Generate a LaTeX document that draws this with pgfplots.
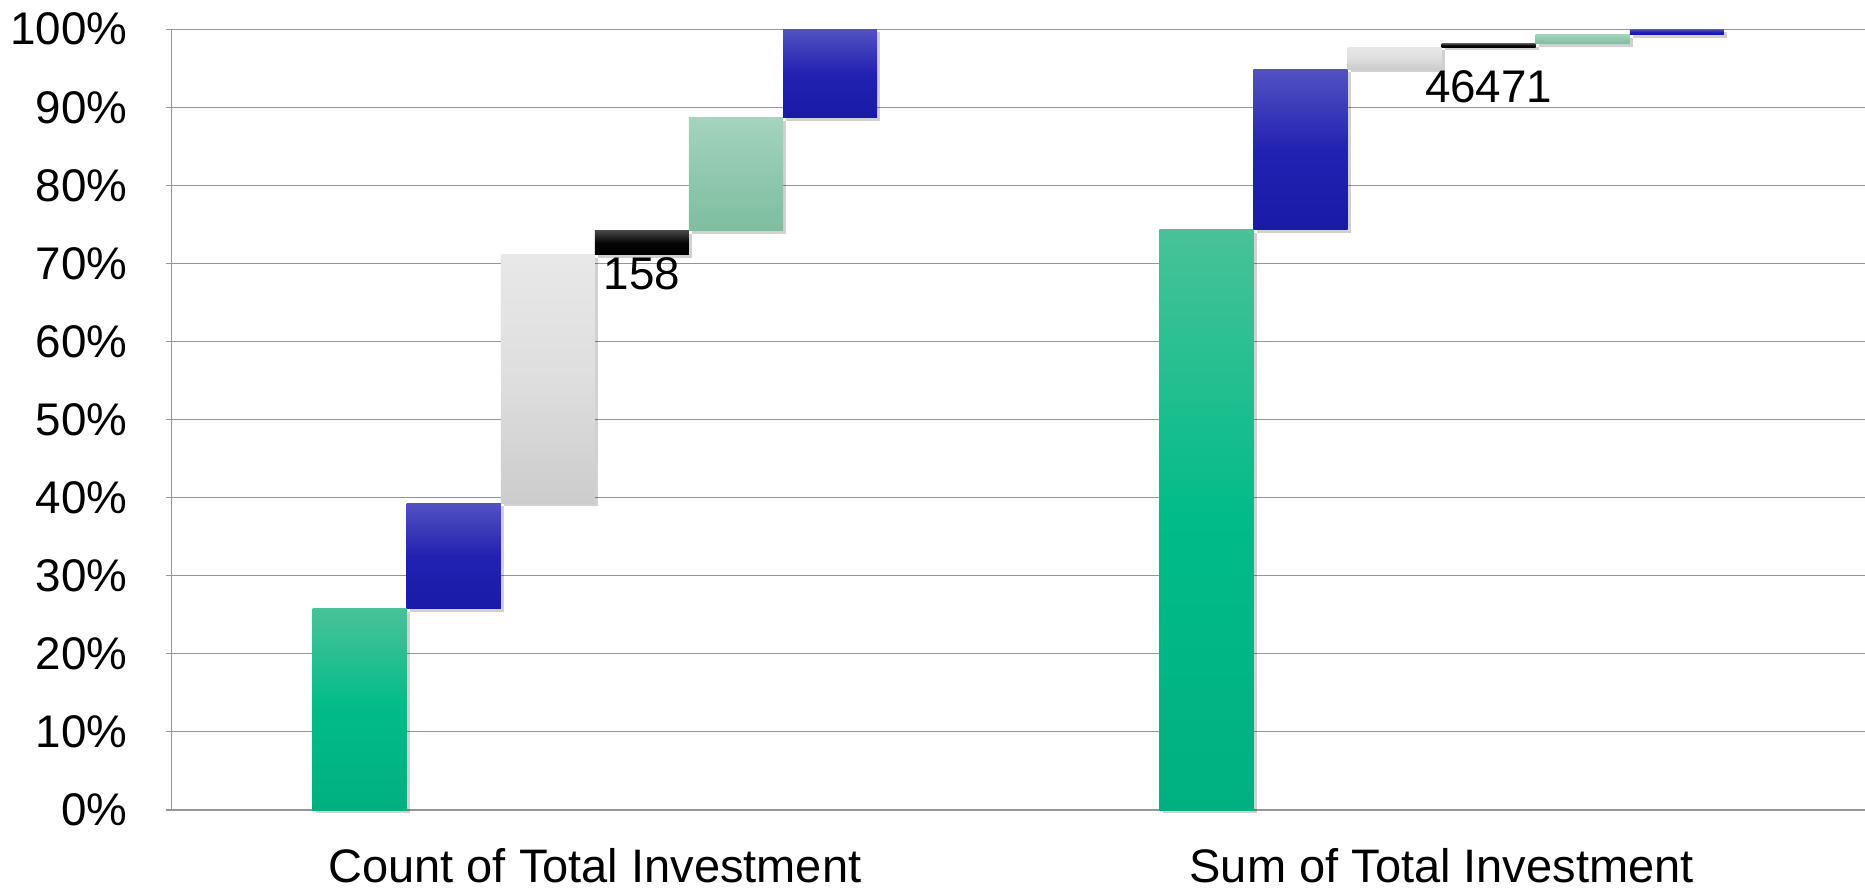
\documentclass[border=0pt]{standalone}
\usepackage{fontspec}
\setmainfont{Liberation Sans}
\usepackage{pgfplots}
\pgfplotsset{compat=1.18}
\definecolor{axgray}{RGB}{150,150,150}
\definecolor{gtop}{RGB}{72,194,152}
\definecolor{gmid}{RGB}{0,188,136}
\definecolor{gbot}{RGB}{0,176,128}
\definecolor{btop}{RGB}{82,82,194}
\definecolor{bmid}{RGB}{34,34,178}
\definecolor{bbot}{RGB}{26,26,168}
\definecolor{ytop}{RGB}{232,232,232}
\definecolor{ymid}{RGB}{222,222,222}
\definecolor{ybot}{RGB}{204,204,204}
\definecolor{ktop}{RGB}{70,70,70}
\definecolor{kmid}{RGB}{5,5,5}
\definecolor{kbot}{RGB}{0,0,0}
\definecolor{ltop}{RGB}{164,212,190}
\definecolor{lmid}{RGB}{144,200,174}
\definecolor{lbot}{RGB}{126,190,158}
\begin{document}
\begin{tikzpicture}
\begin{axis}[
  scale only axis, width=677.4pt, height=312.3pt,
  xmin=-0.5, xmax=1.5, ymin=0, ymax=100,
  axis x line*=bottom, axis y line*=left,
  axis line style={draw=axgray, line width=0.5pt},
  ytick={0,10,...,100},
  yticklabels={0\%,10\%,20\%,30\%,40\%,50\%,60\%,70\%,80\%,90\%,100\%},
  xtick={0,1},
  xticklabels={Count of Total Investment, Sum of Total Investment},
  ymajorgrids, grid style={draw=axgray, line width=0.45pt},
  tick align=outside, major tick length=2pt,
  ytick style={draw=axgray, line width=0.45pt},
  xtick style={draw=none},
  yticklabel style={font=\fontsize{18.3}{21}\selectfont, anchor=east, inner sep=0pt, xshift=-15.5pt},
  xticklabel style={font=\fontsize{18.8}{22}\selectfont, anchor=base, inner sep=0pt, yshift=-26.8pt},
  clip=false,
  seg/.style={draw=none, preaction={shade=false, fill=black, fill opacity=0.18, draw=none, transform canvas={xshift=1.3pt, yshift=-1.3pt}}},
  sgreen/.style={seg, top color=gtop, bottom color=gbot, middle color=gmid},
  sblue/.style={seg, top color=btop, bottom color=bbot, middle color=bmid},
  sgray/.style={seg, top color=ytop, bottom color=ybot, middle color=ymid},
  sblack/.style={seg, top color=ktop, bottom color=kbot, middle color=kmid},
  slight/.style={seg, top color=ltop, bottom color=lbot, middle color=lmid},
]
% Count of Total Investment
\addplot[sgreen] coordinates {(-0.3333,0) (-0.2222,0) (-0.2222,25.8) (-0.3333,25.8)} -- cycle;
\addplot[sblue]  coordinates {(-0.2222,25.8) (-0.1111,25.8) (-0.1111,39.3) (-0.2222,39.3)} -- cycle;
\addplot[sgray]  coordinates {(-0.1111,39.3) (0,39.3) (0,71.1) (-0.1111,71.1)} -- cycle;
\addplot[sblack] coordinates {(0,71.1) (0.1111,71.1) (0.1111,74.2) (0,74.2)} -- cycle;
\addplot[slight] coordinates {(0.1111,74.2) (0.2222,74.2) (0.2222,88.7) (0.1111,88.7)} -- cycle;
\addplot[sblue]  coordinates {(0.2222,88.7) (0.3333,88.7) (0.3333,100) (0.2222,100)} -- cycle;
% Sum of Total Investment
\addplot[sgreen] coordinates {(0.6667,0) (0.7778,0) (0.7778,74.3) (0.6667,74.3)} -- cycle;
\addplot[sblue]  coordinates {(0.7778,74.3) (0.8889,74.3) (0.8889,94.9) (0.7778,94.9)} -- cycle;
\addplot[sgray]  coordinates {(0.8889,94.9) (1.0,94.9) (1.0,97.7) (0.8889,97.7)} -- cycle;
\addplot[sblack] coordinates {(1.0,97.7) (1.1111,97.7) (1.1111,98.15) (1.0,98.15)} -- cycle;
\addplot[slight] coordinates {(1.1111,98.15) (1.2222,98.15) (1.2222,99.35) (1.1111,99.35)} -- cycle;
\addplot[sblue]  coordinates {(1.2222,99.35) (1.3333,99.35) (1.3333,100) (1.2222,100)} -- cycle;
\node[anchor=base, inner sep=0pt, font=\fontsize{18.3}{21}\selectfont] at (axis cs:0.0556,66.7) {158};
\node[anchor=base, inner sep=0pt, font=\fontsize{18.3}{21}\selectfont] at (axis cs:1.0556,90.65) {46471};
\coordinate (bl) at (axis cs:-0.5,0);
\coordinate (tr) at (axis cs:1.5,100);
\end{axis}
\pgfresetboundingbox
\path[use as bounding box] ([xshift=-68.6pt,yshift=-32.4pt]bl) rectangle ([yshift=11.7pt]tr);
\end{tikzpicture}
\end{document}
